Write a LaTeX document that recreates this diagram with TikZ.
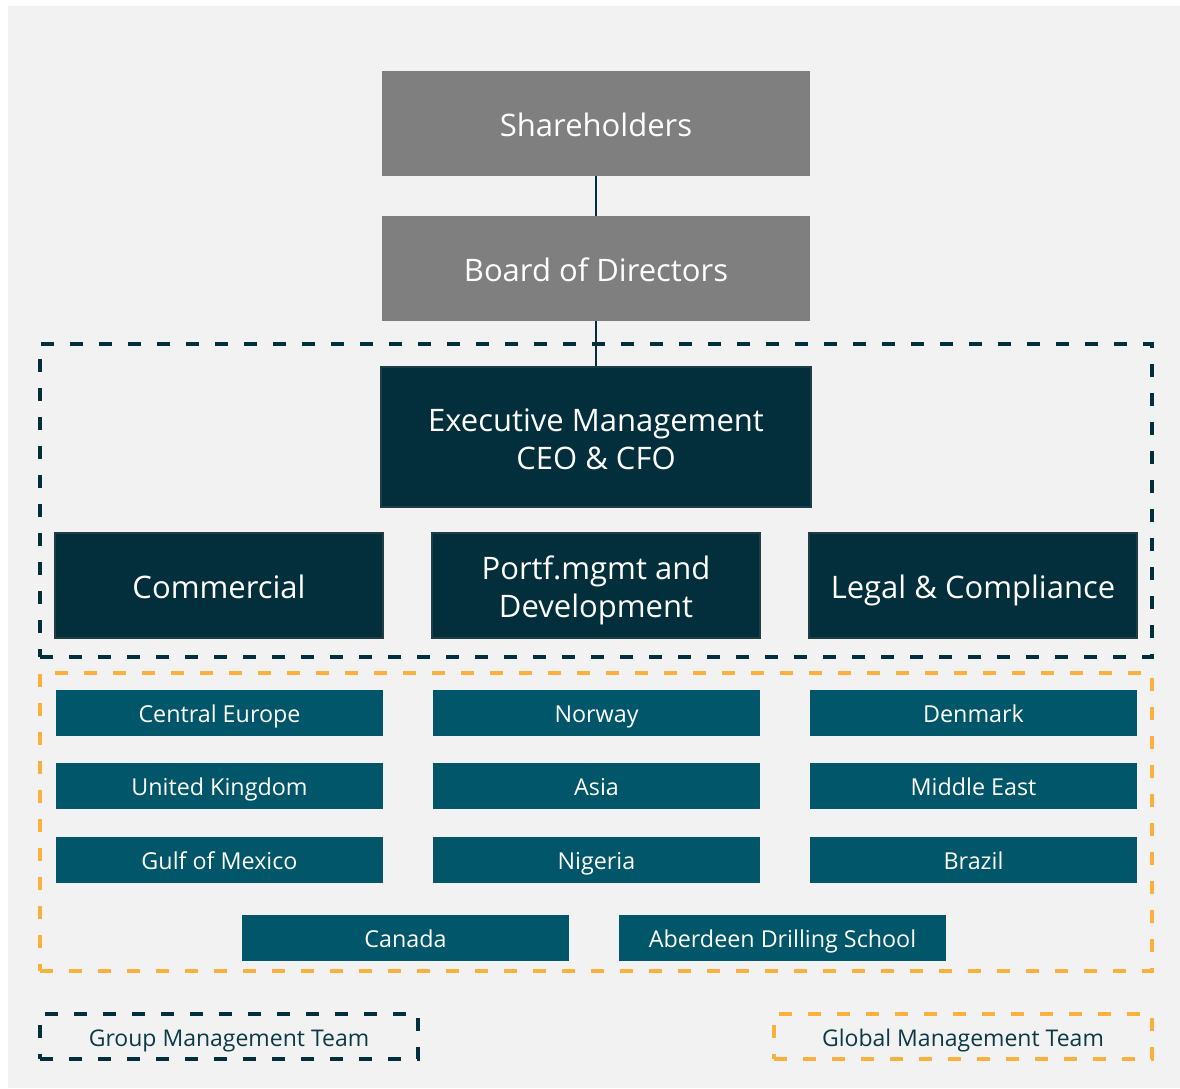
\documentclass[tikz,border=0pt]{standalone}
\usepackage{fontspec}
\setmainfont{Open Sans}
\usetikzlibrary{positioning}
\definecolor{bggray}{HTML}{F2F2F2}
\definecolor{boxgray}{HTML}{7F7F7F}
\definecolor{darkteal}{HTML}{022F3B}
\definecolor{darkedge}{HTML}{1E3D45}
\definecolor{teal}{HTML}{02566A}
\definecolor{orangeline}{HTML}{FBB03B}
\definecolor{legendtext}{HTML}{0B3A44}
\tikzset{
  bigtext/.style={text height=26.35pt, text depth=0pt, font=\fontsize{31}{38}\selectfont},
  twolines/.style={text height=64.35pt, text depth=0pt},
  graybox/.style={bigtext, fill=boxgray, text=white, minimum width=428pt, minimum height=105pt, inner sep=0pt, align=center},
  darkbox/.style={bigtext, fill=darkteal, draw=darkedge, line width=1.2pt, text=white, inner sep=0pt, align=center},
  regionbox/.style={text height=19.8pt, text depth=0pt, fill=teal, text=white, minimum width=327pt, minimum height=46pt, inner sep=0pt, font=\fontsize{23.3}{28}\selectfont},
  grpline/.style={draw=darkteal, line width=3.8pt, dash pattern=on 13pt off 16pt},
  globline/.style={draw=orangeline, line width=3.8pt, dash pattern=on 13pt off 16pt},
  legendbox/.style={text height=19.6pt, text depth=0pt, minimum width=378pt, minimum height=45pt, inner sep=0pt, text=legendtext, font=\fontsize{23}{28}\selectfont},
  link/.style={draw=darkteal, line width=1.3pt}
}
\begin{document}
\begin{tikzpicture}[x=1pt,y=-1pt]
\useasboundingbox (0,0) rectangle (1180,1088);
\fill[bggray] (8,6) rectangle (1180,1088);

% top nodes
\node[graybox] (sh) at (596,123.5) {Shareholders};
\node[graybox] (bod) at (596,268.5) {Board of Directors};

% team frames
\node[grpline, minimum width=1112pt, minimum height=313pt, inner sep=0pt] (gmt) at (596,500.5) {};
\node[globline, minimum width=1112pt, minimum height=298pt, inner sep=0pt] (glt) at (596,822) {};

\node[darkbox, twolines, minimum width=430pt, minimum height=140pt] (exec) at (596,437) {Executive Management\\CEO \& CFO};
\node[darkbox, minimum width=328pt, minimum height=105pt] (com) at (219,585.5) {Commercial};
\node[darkbox, twolines, minimum width=328pt, minimum height=105pt] (portf) at (596,585.5) {Portf.mgmt and\\Development};
\node[darkbox, minimum width=328pt, minimum height=105pt] (legal) at (973,585.5) {Legal \& Compliance};

\draw[link] (sh.south) -- (bod.north);
\draw[link] (bod.south) -- (exec.north);

% regions
\node[regionbox] (ce) at (219.5,713) {Central Europe};
\node[regionbox] (no) at (596.5,713) {Norway};
\node[regionbox] (dk) at (973.5,713) {Denmark};
\node[regionbox] (uk) at (219.5,786) {United Kingdom};
\node[regionbox] (as) at (596.5,786) {Asia};
\node[regionbox] (me) at (973.5,786) {Middle East};
\node[regionbox] (gm) at (219.5,860) {Gulf of Mexico};
\node[regionbox] (ng) at (596.5,860) {Nigeria};
\node[regionbox] (br) at (973.5,860) {Brazil};
\node[regionbox] (ca) at (405.5,938) {Canada};
\node[regionbox] (ab) at (782.5,938) {Aberdeen Drilling School};

% legend
\node[legendbox, grpline] (lg1) at (229,1036.5) {Group Management Team};
\node[legendbox, globline] (lg2) at (963,1036.5) {Global Management Team};
\end{tikzpicture}
\end{document}
